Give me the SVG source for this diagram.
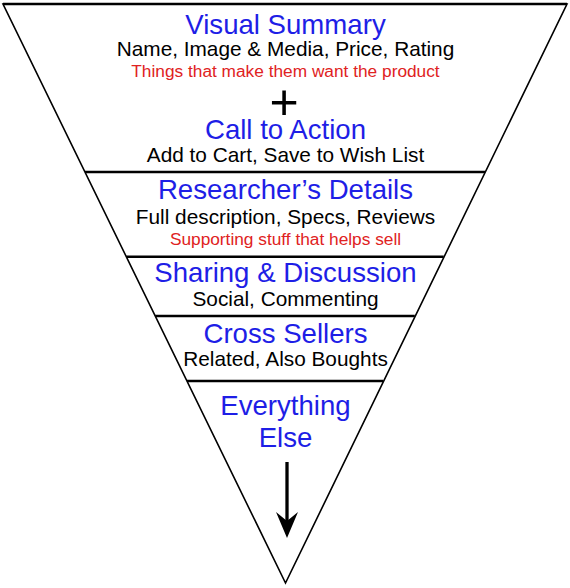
<svg xmlns="http://www.w3.org/2000/svg" width="570" height="588" viewBox="0 0 570 588">
<style>
text{font-family:"Liberation Sans",Arial,sans-serif;text-anchor:middle}
.h{font-size:27.6px;fill:#1e1ee6}
.b{font-size:20.8px;fill:#000}
.r{font-size:17.3px;fill:#e02222}
.edge{fill:none;stroke:#000;stroke-width:1.6;stroke-linejoin:miter}
.sep{stroke:#000;stroke-width:2.6}
</style>
<defs>
<marker id="ah" markerUnits="userSpaceOnUse" viewBox="-20 -12 30 24" refX="0" refY="0" markerWidth="30" markerHeight="24" orient="auto" overflow="visible">
<path d="M8,0 L-18,-11 L-9,0 L-18,11 Z" fill="#000"/>
</marker>
</defs>
<rect width="570" height="588" fill="#fff"/>
<g id="frame">
<polygon class="edge" points="3,4 567,4 285.5,583"/>
<line class="sep" x1="3" y1="4" x2="567" y2="4"/>
<line class="sep" x1="85" y1="172" x2="485" y2="172"/>
<line class="sep" x1="126.3" y1="256.7" x2="443.7" y2="256.7"/>
<line class="sep" x1="155.2" y1="316" x2="414.8" y2="316"/>
<line class="sep" x1="187" y1="381" x2="383" y2="381"/>
</g>
<g id="visual-summary">
<text class="h" x="285.5" y="34">Visual Summary</text>
<text class="b" x="285.5" y="56">Name, Image &amp; Media, Price, Rating</text>
<text class="r" x="285.5" y="76.7">Things that make them want the product</text>
<text x="284" y="119" style="font-size:50px;fill:#000">+</text>
<text class="h" x="285.5" y="139">Call to Action</text>
<text class="b" x="285.5" y="162.3">Add to Cart, Save to Wish List</text>
</g>
<g id="researchers-details">
<text class="h" x="285.5" y="199.3">Researcher’s Details</text>
<text class="b" x="285.5" y="224">Full description, Specs, Reviews</text>
<text class="r" x="285.5" y="245">Supporting stuff that helps sell</text>
</g>
<g id="sharing-discussion">
<text class="h" x="285.5" y="281.7">Sharing &amp; Discussion</text>
<text class="b" x="285.5" y="305.7">Social, Commenting</text>
</g>
<g id="cross-sellers">
<text class="h" x="285.5" y="342.7">Cross Sellers</text>
<text class="b" x="285.5" y="366">Related, Also Boughts</text>
</g>
<g id="everything-else">
<text class="h" x="285.5" y="415">Everything</text>
<text class="h" x="285.5" y="446.7">Else</text>
</g>
<g id="connectors">
<line x1="287" y1="462" x2="287" y2="530" stroke="#000" stroke-width="3.3" marker-end="url(#ah)"/>
</g>
</svg>
